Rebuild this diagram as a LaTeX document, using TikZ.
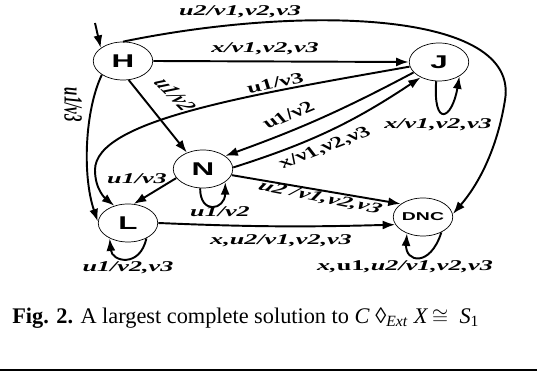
\documentclass[tikz,border=0pt]{standalone}
\usepackage{fontspec}
\setmainfont{Liberation Serif}
\setsansfont{Liberation Sans}
\usetikzlibrary{arrows.meta, shapes.geometric}

\begin{document}
\begin{tikzpicture}[
    x=0.02cm, y=-0.02cm,
    state/.style={ellipse, draw, thin, inner sep=0pt, minimum width=0.7cm,
      minimum height=0.76cm, xscale=1.7, font=\sffamily\bfseries\fontsize{10.5}{11}\selectfont},
    lbl/.style={inner sep=0pt, xscale=1.75, font=\bfseries\itshape\fontsize{8.5}{9}\selectfont},
    flow/.style={-{Latex[length=2.5mm, width=1.8mm]}, line width=1.1pt},
  ]
  \useasboundingbox (0,0) rectangle (537,374);

  % ---- states ----
  \node[state] (H) at (123,61) {H};
  \node[state] (J) at (439,62) {J};
  \node[state] (N) at (203,169) {N};
  \node[state] (L) at (128,223) {L};
  \node[state, font=\sffamily\bfseries\fontsize{6.5}{7}\selectfont] (DNC) at (423,217) {DNC};

  % initial arrow
  \coordinate (init) at (95,23);
  \draw[flow] (init) -- (H.135);

  % ---- from H ----
  \draw[flow] (H.north) .. controls (300,5) and (520,10) .. (505,100)
      .. controls (497,150) and (478,185) .. (DNC.10);
  \draw[flow] (H.east) -- (J.west);
  \draw[flow] (H.280) -- (N.120);
  \draw[flow] (H.228) .. controls (85,110) and (82,175) .. (L.175);

  % ---- from J ----
  \draw[flow] (J.195) .. controls (250,95) and (95,120) .. (95,170)
      .. controls (95,190) and (106,199) .. (L.115);
  \draw[flow] (J.215) to[bend left=4] (N.45);
  \draw[flow] (J.265) .. controls (433,128) and (452,120) .. (J.310);

  % ---- from N ----
  \draw[flow] (N.5) to[bend right=8] (J.235);
  \draw[flow] (N.210) -- (L.80);
  \draw[flow] (N.265) .. controls (200,215) and (225,210) .. (N.315);
  \draw[flow] (N.340) -- (DNC.135);

  % ---- from L and DNC ----
  \draw[flow] (L.east) to[bend right=2] (DNC.205);
  \draw[flow] (L.305) .. controls (140,268) and (112,262) .. (L.235);
  \draw[flow] (DNC.305) .. controls (430,268) and (405,262) .. (DNC.240);

  % ---- labels ----
  \node[lbl] (lHD) at (240,12) {u2/v1,v2,v3};
  \node[lbl] (lHJ) at (265,49) {x/v1,v2,v3};
  \node[lbl, rotate=-60] (lHN) at (175,95) {u1/v2};
  \node[lbl, rotate=-90] (lHL) at (73,105) {u1/v3};
  \node[lbl, rotate=20] (lJL) at (275,83) {u1/v3};
  \node[lbl, rotate=36] (lJN) at (288,115) {u1/v2};
  \node[lbl, rotate=34] (lNJ) at (325,148) {x/v1,v2,v3};
  \node[lbl] (lJJ) at (438,125) {x/v1,v2,v3};
  \node[lbl] (lNL) at (137,179) {u1/v3};
  \node[lbl] (lNN) at (220,212) {u1/v2};
  \node[lbl, rotate=-19] (lND) at (320,198) {u2 /v1,v2,v3};
  \node[lbl] (lLD) at (281,241) {x,u2/v1,v2,v3};
  \node[lbl] (lLL) at (128,268) {u1/v2,v3};
  \node[lbl] (lDD) at (405,267) {x,\textup{u1},u2/v1,v2,v3};

  % ---- caption ----
  \node[anchor=west, inner sep=0pt, font=\fontsize{12.7}{15}\selectfont] (cap) at (12,318)
      {\textbf{Fig. 2.} A largest complete solution to \textit{C} ◊\textsubscript{\textit{Ext}}
       \textit{X}\,$\cong$\ \ \textit{S}\textsubscript{1}};
  \draw[line width=1.1pt] (0,370) -- (537,370);

\end{tikzpicture}
\end{document}
